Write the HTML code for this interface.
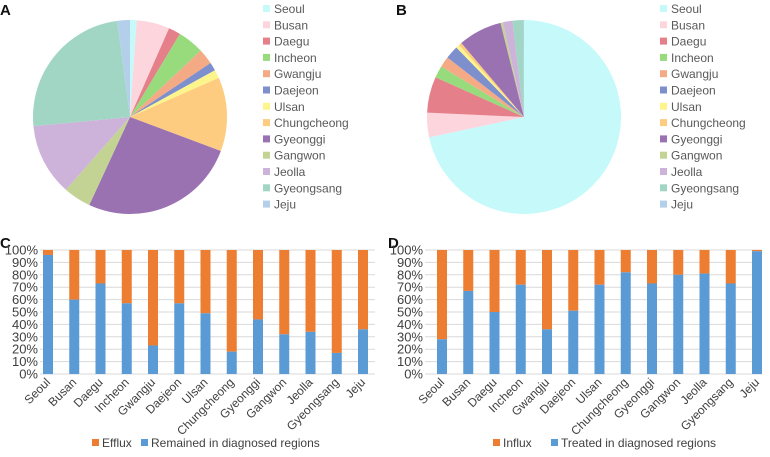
<!DOCTYPE html>
<html><head><meta charset="utf-8">
<style>
body{margin:0;background:#fff;width:770px;height:452px;overflow:hidden;font-family:"Liberation Sans",sans-serif;}
svg text{font-family:"Liberation Sans",sans-serif;}
</style></head>
<body>
<svg id="chart" width="770" height="452" viewBox="0 0 770 452" xmlns="http://www.w3.org/2000/svg">
<text x="0" y="15" font-size="15" font-weight="bold" fill="#111">A</text>
<text x="396" y="15" font-size="15" font-weight="bold" fill="#111">B</text>
<text x="0" y="248" font-size="15" font-weight="bold" fill="#111">C</text>
<text x="388" y="248" font-size="15" font-weight="bold" fill="#111">D</text>
</svg>
<script>
const regions=["Seoul","Busan","Daegu","Incheon","Gwangju","Daejeon","Ulsan","Chungcheong","Gyeonggi","Gangwon","Jeolla","Gyeongsang","Jeju"];
const pieColors=["#c6f9f9","#fdd5dd","#e57f8a","#98db7d","#f4aa84","#7e8fce","#fdf58c","#fdcc80","#9a72b2","#c3d393","#cdb2da","#a1d6c4","#b4cfea"];
const pieA=[1.1,5.5,2.0,4.4,2.6,1.4,1.4,12.3,26.2,4.6,12.0,24.4,2.1];
const pieB=[71.7,4.1,6.0,2.0,1.8,2.2,0.6,0.5,7.3,0.4,1.6,1.8,0.1];
const remained=[96,60,73,57,23,57,49,18,44,32,34,17,36];
const treated=[28,67,50,72,36,51,72,82,73,80,81,73,99];
const yTicks=[0,10,20,30,40,50,60,70,80,90,100];
const NS="http://www.w3.org/2000/svg";
const svg=document.getElementById('chart');
function mk(tag,attrs,parent){const e=document.createElementNS(NS,tag);for(const k in attrs)e.setAttribute(k,attrs[k]);(parent||svg).appendChild(e);return e;}

function pie(vals,cx,cy,r,lx,name){
  const g=mk('g',{});
  
  
  const tot=vals.reduce((a,b)=>a+b,0);let a0=0;
  vals.forEach((v,i)=>{
    const a1=a0+v/tot*2*Math.PI;
    const x0=cx+r*Math.sin(a0),y0=cy-r*Math.cos(a0),x1=cx+r*Math.sin(a1),y1=cy-r*Math.cos(a1);
    const large=(a1-a0)>Math.PI?1:0;
    const p=mk('path',{d:`M${cx},${cy}L${x0},${y0}A${r},${r} 0 ${large} 1 ${x1},${y1}Z`,fill:pieColors[i]},g);
    
    
    a0=a1;
  });
  regions.forEach((reg,i)=>{
    const y=9+i*16.3;
    const s=mk('rect',{x:lx,y:y-4,width:7,height:7,fill:pieColors[i]});
    
    
    const t=mk('text',{x:lx+11,y:y+4,'font-size':12,fill:'#595959'});
    t.textContent=reg;
    
    
  });
}
pie(pieA,130,117,97,263,'pie-a');
pie(pieB,524,117,97,660,'pie-b');

function bars(vals,x0,x1,first,labelTop,labelBot,lx1,lx2,name){
  const top=250,bot=374,step=26.25,bw=10;
  const y=v=>bot-(bot-top)*v/100;
  yTicks.forEach(t=>{
    const l=mk('line',{x1:x0,x2:x1,y1:y(t),y2:y(t),stroke:'#d9d9d9','stroke-width':1});
    
    
    const tx=mk('text',{x:x0-2,y:y(t)+4.5,'font-size':13,'text-anchor':'end',fill:'#404040'});
    tx.textContent=t+'%';
    
    
  });
  vals.forEach((v,i)=>{
    const cx=first+i*step;
    const o=mk('rect',{x:cx-bw/2,y:top,width:bw,height:y(v)-top,fill:'#ed7d31'});
    
    
    const b=mk('rect',{x:cx-bw/2,y:y(v),width:bw,height:bot-y(v),fill:'#5b9bd5'});
    
    
    const t=mk('text',{x:cx+3,y:bot+9,'font-size':12,'text-anchor':'end',fill:'#404040',transform:`rotate(-45 ${cx+3} ${bot+9})`});
    t.textContent=regions[i];
    
    
  });
  const ly=443;
  const s1=mk('rect',{x:lx1,y:ly-4,width:7,height:7,fill:'#ed7d31'});
  
  
  const t1=mk('text',{x:lx1+10,y:ly+4,'font-size':12,fill:'#404040'});t1.textContent=labelTop;
  
  
  const s2=mk('rect',{x:lx2,y:ly-4,width:7,height:7,fill:'#5b9bd5'});
  
  
  const t2=mk('text',{x:lx2+10,y:ly+4,'font-size':12,fill:'#404040'});t2.textContent=labelBot;
  
  
}
bars(remained,40,375,48,'Efflux','Remained in diagnosed regions',92,141,'bar-chart-c');
bars(treated,425,762,442,'Influx','Treated in diagnosed regions',493,551,'bar-chart-d');
</script>
</body></html>
